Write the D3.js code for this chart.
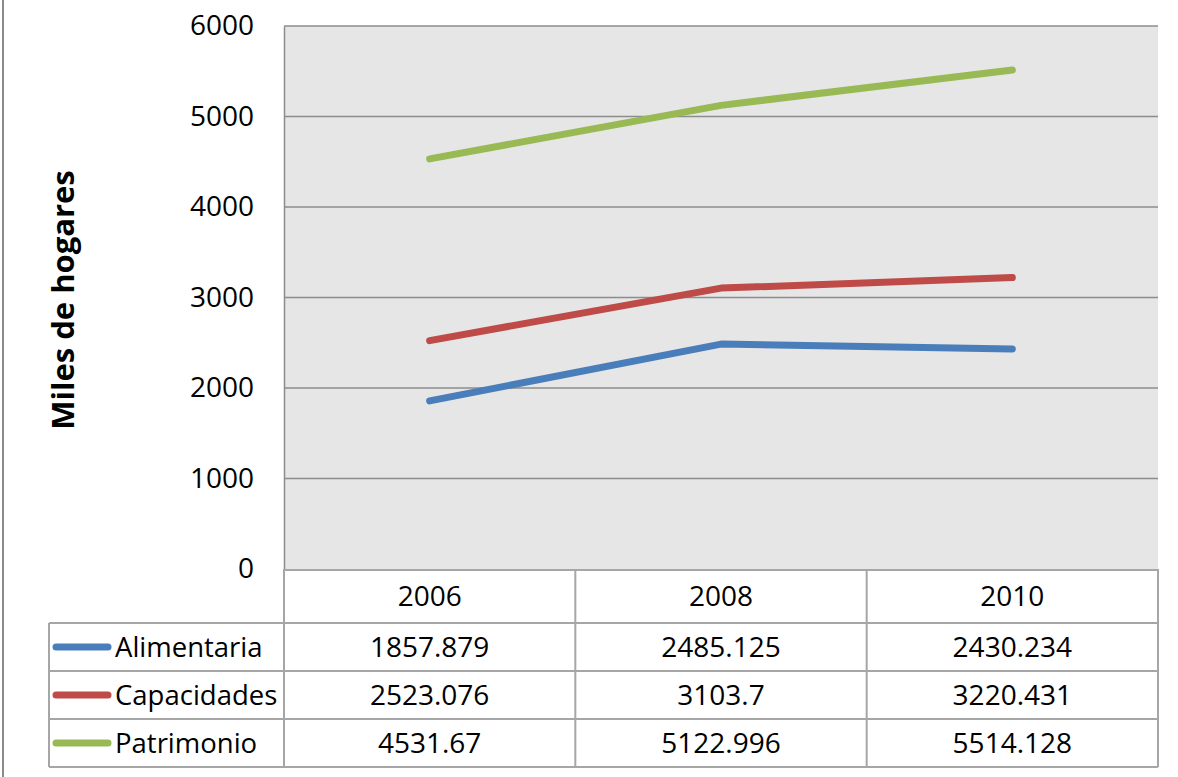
<!DOCTYPE html>
<html>
<head>
<meta charset="utf-8">
<script src="https://cdn.jsdelivr.net/npm/d3@7"></script>
<style>
  body { margin: 0; background: #fff; }
  text { font-family: "Open Sans", sans-serif; fill: #000; }
</style>
</head>
<body>
<div id="frame"></div>
<script>
// DATA
const years = ["2006", "2008", "2010"];
const seriesNames = ["Alimentaria", "Capacidades", "Patrimonio"];
const alimentaria = [1857.879, 2485.125, 2430.234];
const capacidades = [2523.076, 3103.7, 3220.431];
const patrimonio = [4531.67, 5122.996, 5514.128];
const valueLabels = [
    ["1857.879", "2485.125", "2430.234"],
    ["2523.076", "3103.7", "3220.431"],
    ["4531.67", "5122.996", "5514.128"]
];
const yTicks = [0, 1000, 2000, 3000, 4000, 5000, 6000];
const seriesColors = ["#4a7ebb", "#be4b48", "#98b954"];

// CHART VARIABLES
const width = 1178;
const height = 777;
const plot = { left: 284, right: 1158, top: 26, bottom: 569 };
const tableLeft = 49;
const headerBottom = 623;
const rowH = 48;
const gridColor = "#8c8c8c";
const borderColor = "#a6a6a6";

const svg = d3.select("#frame")
    .append("svg")
        .attr("width", width)
        .attr("height", height);

const x = d3.scaleBand()
    .domain(years)
    .range([plot.left, plot.right])
    .padding(0);

const y = d3.scaleLinear()
    .domain([0, 6000])
    .range([plot.bottom, plot.top]);

// outer frame line at the left
svg.append("line")
    .attr("x1", 3).attr("x2", 3)
    .attr("y1", 0).attr("y2", height)
    .attr("stroke", "#8a8a8a")
    .attr("stroke-width", 2);

// plot background
svg.append("rect")
    .attr("x", plot.left)
    .attr("y", plot.top)
    .attr("width", plot.right - plot.left)
    .attr("height", plot.bottom - plot.top)
    .attr("fill", "#e6e6e6");

// gridlines
svg.append("g")
    .selectAll("line")
    .data(yTicks.filter(d => d > 0))
    .enter()
    .append("line")
        .attr("x1", plot.left)
        .attr("x2", plot.right)
        .attr("y1", d => y(d))
        .attr("y2", d => y(d))
        .attr("stroke", gridColor)
        .attr("stroke-width", 1.5);

// y axis
const yAxis = d3.axisLeft(y)
    .tickValues(yTicks)
    .tickSize(0)
    .tickPadding(30)
    .tickFormat(d3.format("d"));

const gy = svg.append("g")
    .attr("transform", `translate(${plot.left},0)`)
    .call(yAxis);
gy.select(".domain").attr("stroke", gridColor).attr("stroke-width", 1.5);
gy.selectAll("text")
    .attr("font-size", 28)
    .attr("font-family", "Open Sans, sans-serif")
    .attr("fill", "#000");

// y axis title
svg.append("text")
    .attr("transform", "translate(74,300) rotate(-90)")
    .attr("text-anchor", "middle")
    .attr("font-size", 31)
    .attr("font-weight", "bold")
    .text("Miles de hogares");

// lines
const allSeries = [alimentaria, capacidades, patrimonio];
const line = d3.line()
    .x((d, i) => x(years[i]) + x.bandwidth() / 2)
    .y(d => y(d));

svg.append("g")
    .selectAll("path")
    .data(allSeries)
    .enter()
    .append("path")
        .attr("d", d => line(d))
        .attr("fill", "none")
        .attr("stroke", (d, i) => seriesColors[i])
        .attr("stroke-width", 7)
        .attr("stroke-linecap", "round")
        .attr("stroke-linejoin", "round");

// DATA TABLE
const table = svg.append("g");

// header row verticals
table.selectAll(".hv")
    .data([plot.left, ...years.map(d => x(d) + x.bandwidth())])
    .enter()
    .append("line")
        .attr("x1", d => d).attr("x2", d => d)
        .attr("y1", plot.bottom).attr("y2", headerBottom)
        .attr("stroke", borderColor)
        .attr("stroke-width", 2);

table.append("line")
    .attr("x1", plot.left).attr("x2", plot.right)
    .attr("y1", plot.bottom + 1).attr("y2", plot.bottom + 1)
    .attr("stroke", borderColor)
    .attr("stroke-width", 2);

// header text
table.selectAll(".ht")
    .data(years)
    .enter()
    .append("text")
        .attr("x", d => x(d) + x.bandwidth() / 2)
        .attr("y", (plot.bottom + headerBottom) / 2 + 10)
        .attr("text-anchor", "middle")
        .attr("font-size", 28)
        .text(d => d);

// row horizontals
table.selectAll(".rh")
    .data(d3.range(seriesNames.length + 1))
    .enter()
    .append("line")
        .attr("x1", tableLeft).attr("x2", plot.right)
        .attr("y1", i => headerBottom + i * rowH)
        .attr("y2", i => headerBottom + i * rowH)
        .attr("stroke", borderColor)
        .attr("stroke-width", 2);

// row verticals
table.selectAll(".rv")
    .data([tableLeft, plot.left, ...years.map(d => x(d) + x.bandwidth())])
    .enter()
    .append("line")
        .attr("x1", d => d).attr("x2", d => d)
        .attr("y1", headerBottom)
        .attr("y2", headerBottom + seriesNames.length * rowH)
        .attr("stroke", borderColor)
        .attr("stroke-width", 2);

// legend keys and labels
const rows = table.selectAll(".row")
    .data(seriesNames)
    .enter()
    .append("g")
        .attr("transform", (d, i) => `translate(0,${headerBottom + i * rowH + rowH / 2})`);

rows.append("line")
    .attr("x1", 56).attr("x2", 108)
    .attr("y1", 0).attr("y2", 0)
    .attr("stroke", (d, i) => seriesColors[i])
    .attr("stroke-width", 7)
    .attr("stroke-linecap", "round");

rows.append("text")
    .attr("x", 115)
    .attr("y", 10)
    .attr("font-size", 27.5)
    .text(d => d);

rows.each(function(d, i) {
    d3.select(this).selectAll(".val")
        .data(years)
        .enter()
        .append("text")
            .attr("x", yr => x(yr) + x.bandwidth() / 2)
            .attr("y", 10)
            .attr("text-anchor", "middle")
            .attr("font-size", 28)
            .text((yr, j) => valueLabels[i][j]);
});
</script>
</body>
</html>
